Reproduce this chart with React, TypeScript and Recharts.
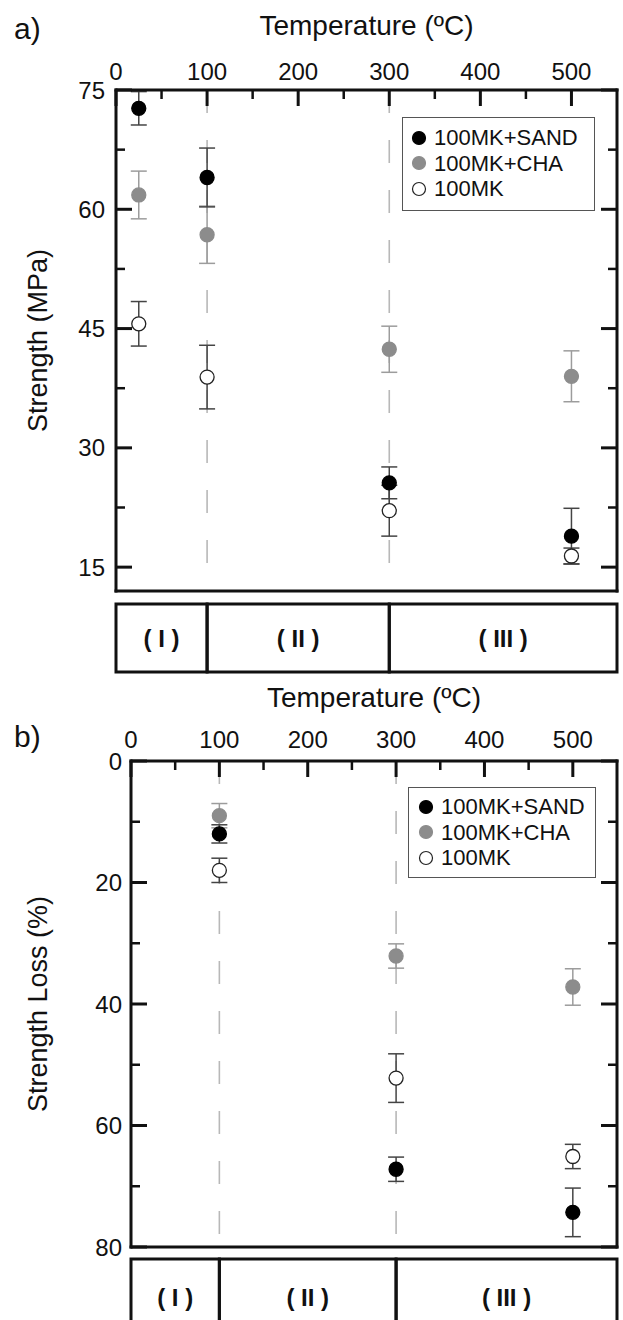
import React from 'react';
import {
  ScatterChart,
  Scatter,
  XAxis,
  YAxis,
  ErrorBar,
  ReferenceLine,
  ReferenceArea,
  Legend,
  Label,
} from 'recharts';

// ---------- data ----------
const temperatureTicks = [0, 100, 200, 300, 400, 500];
const temperatureMinorTicks = [50, 150, 250, 350, 450];
const temperatureDomain = [0, 550];
const stageLines = [100, 300];

const strengthTicks = [15, 30, 45, 60, 75];
const strengthMinorTicks = [22.5, 37.5, 52.5, 67.5];
const strengthDomain = [12, 75];

const lossTicks = [0, 20, 40, 60, 80];
const lossMinorTicks = [10, 30, 50, 70];
const lossDomain = [0, 80];

const phaseStarts = [0, 100, 300];
const phaseEnds = [100, 300, 550];
const phaseNames = ['( I )', '( II )', '( III )'];

const seriesNames = ['100MK+SAND', '100MK+CHA', '100MK'];

// panel a) compressive strength (MPa): t = temperature, v = value, e = error
const strengthSand = [
  { t: 25, v: 72.7, e: 2.1 },
  { t: 100, v: 64.0, e: 3.7 },
  { t: 300, v: 25.6, e: 2.0 },
  { t: 500, v: 18.9, e: 3.5 },
];
const strengthCha = [
  { t: 25, v: 61.8, e: 3.0 },
  { t: 100, v: 56.8, e: 3.6 },
  { t: 300, v: 42.4, e: 2.9 },
  { t: 500, v: 39.0, e: 3.2 },
];
const strengthMk = [
  { t: 25, v: 45.6, e: 2.8 },
  { t: 100, v: 38.9, e: 4.0 },
  { t: 300, v: 22.1, e: 3.2 },
  { t: 500, v: 16.4, e: 1.0 },
];

// panel b) strength loss (%)
const lossSand = [
  { t: 100, v: 12.0, e: 1.5 },
  { t: 300, v: 67.2, e: 2.0 },
  { t: 500, v: 74.3, e: 4.0 },
];
const lossCha = [
  { t: 100, v: 9.0, e: 2.0 },
  { t: 300, v: 32.1, e: 2.0 },
  { t: 500, v: 37.2, e: 3.0 },
];
const lossMk = [
  { t: 100, v: 18.0, e: 2.0 },
  { t: 300, v: 52.2, e: 4.0 },
  { t: 500, v: 65.1, e: 2.0 },
];

// ---------- styles ----------
const INK = '#111';
const MAJOR_LEN = 16;
const MINOR_LEN = 9;
const seriesStyles = [
  { fill: '#000', stroke: '#000', bar: '#444' },
  { fill: '#8c8c8c', stroke: '#8c8c8c', bar: '#9c9c9c' },
  { fill: '#fff', stroke: '#222', bar: '#444' },
];
const drawOrder = [1, 2, 0];
const frameLine = { stroke: INK, strokeWidth: 3, strokeLinecap: 'square' as const };

const sorted = (a: number[], b: number[]) => [...a, ...b].sort((p, q) => p - q);

const makeDot = (i: number) => (props: any) => {
  const s = seriesStyles[i];
  if (props.cx == null || props.cy == null) return <g />;
  return <circle cx={props.cx} cy={props.cy} r={7} fill={s.fill} stroke={s.stroke} strokeWidth={1.3} />;
};

// tick renderers: each draws an inward tick from the axis' own coordinate
const makeTopTick = (m: number, majors: number[]) => (props: any) => {
  const { x, y, payload } = props;
  const major = majors.includes(payload.value);
  const base = y + m;
  return (
    <g>
      <line x1={x} x2={x} y1={base} y2={base + (major ? MAJOR_LEN : MINOR_LEN)} stroke={INK} strokeWidth={major ? 3 : 2.5} />
      {major && (
        <text x={x} y={y} textAnchor="middle" fill={INK} fontSize={24}>
          {payload.value}
        </text>
      )}
    </g>
  );
};
const makeLeftTick = (m: number, majors: number[]) => (props: any) => {
  const { x, y, payload } = props;
  const major = majors.includes(payload.value);
  const base = x + m;
  return (
    <g>
      <line x1={base} x2={base + (major ? MAJOR_LEN : MINOR_LEN)} y1={y} y2={y} stroke={INK} strokeWidth={major ? 3 : 2.5} />
      {major && (
        <text x={x} y={y} dy="0.355em" textAnchor="end" fill={INK} fontSize={24}>
          {payload.value}
        </text>
      )}
    </g>
  );
};
const makeBottomTick = (majors: number[]) => (props: any) => {
  const { x, y, payload } = props;
  const major = majors.includes(payload.value);
  return <line x1={x} x2={x} y1={y} y2={y - (major ? MAJOR_LEN : MINOR_LEN)} stroke={INK} strokeWidth={major ? 3 : 2.5} />;
};
const makeRightTick = (majors: number[]) => (props: any) => {
  const { x, y, payload } = props;
  const major = majors.includes(payload.value);
  return <line x1={x} x2={x - (major ? MAJOR_LEN : MINOR_LEN)} y1={y} y2={y} stroke={INK} strokeWidth={major ? 3 : 2.5} />;
};

const LegendBox = ({ w, h, padTop, markLeft }: any) => (
  <div
    style={{
      width: w,
      height: h,
      boxSizing: 'border-box',
      border: '1.5px solid #555',
      background: '#fff',
      paddingTop: padTop,
    }}
  >
    {seriesNames.map((n, i) => (
      <div
        key={n}
        style={{ display: 'flex', alignItems: 'center', height: 25.5, fontSize: 22, lineHeight: '25.5px', color: INK }}
      >
        <svg width={16} height={16} style={{ marginLeft: markLeft, marginRight: 7 }}>
          <circle cx={8} cy={8} r={6.5} fill={seriesStyles[i].fill} stroke={seriesStyles[i].stroke} strokeWidth={1.2} />
        </svg>
        <span>{n}</span>
      </div>
    ))}
  </div>
);

function Panel(p: any) {
  const common = { type: 'number' as const, allowDataOverflow: true, interval: 0 as const };
  const xAll = sorted(temperatureTicks, temperatureMinorTicks);
  const yAll = sorted(p.yTicks, p.yMinor);
  return (
    <ScatterChart width={p.width} height={p.height} margin={p.margin}>
      <XAxis
        {...common}
        xAxisId="lab"
        dataKey="t"
        orientation="top"
        height={p.topH}
        domain={temperatureDomain}
        ticks={xAll}
        tickLine={false}
        axisLine={frameLine}
        tickSize={0}
        tickMargin={p.xTickMargin}
        tick={makeTopTick(p.xTickMargin, temperatureTicks)}
      >
        <Label value="Temperature (ºC)" position="insideTop" offset={p.titleOffset} style={{ fill: INK, fontSize: 28 }} />
      </XAxis>
      <YAxis
        {...common}
        yAxisId="lab"
        dataKey="v"
        orientation="left"
        width={p.leftW}
        domain={p.yDomain}
        reversed={p.reversed}
        ticks={yAll}
        tickLine={false}
        axisLine={frameLine}
        tickSize={0}
        tickMargin={p.yTickMargin}
        tick={makeLeftTick(p.yTickMargin, p.yTicks)}
      >
        <Label
          value={p.yLabel}
          angle={-90}
          position="insideLeft"
          offset={p.yLabelOffset}
          style={{ textAnchor: 'middle', fill: INK, fontSize: 27 }}
        />
      </YAxis>
      <XAxis
        {...common}
        xAxisId="bottom"
        orientation="bottom"
        height={1}
        domain={temperatureDomain}
        ticks={xAll}
        tickLine={false}
        axisLine={frameLine}
        tickSize={0}
        tickMargin={0}
        tick={makeBottomTick(temperatureTicks)}
      />
      <YAxis
        {...common}
        yAxisId="right"
        orientation="right"
        width={1}
        domain={p.yDomain}
        reversed={p.reversed}
        ticks={yAll}
        tickLine={false}
        axisLine={frameLine}
        tickSize={0}
        tickMargin={0}
        tick={makeRightTick(p.yTicks)}
      />

      {stageLines.map((x) => (
        <ReferenceLine
          key={x}
          xAxisId="lab"
          yAxisId="lab"
          x={x}
          stroke="#b8b8b8"
          strokeWidth={1.6}
          strokeDasharray="23 27"
        />
      ))}

      {drawOrder.map((i) => (
        <Scatter
          key={seriesNames[i]}
          name={seriesNames[i]}
          data={p.data[i]}
          xAxisId="lab"
          yAxisId="lab"
          isAnimationActive={false}
          shape={makeDot(i)}
        >
          <ErrorBar dataKey="e" direction="y" width={8} stroke={seriesStyles[i].bar} strokeWidth={1.5} isAnimationActive={false} />
        </Scatter>
      ))}

      <Legend
        layout="vertical"
        align="center"
        verticalAlign="middle"
        wrapperStyle={{ left: p.legendLeft, top: p.legendTop, width: p.legendW, height: p.legendH }}
        content={() => <LegendBox w={p.legendW} h={p.legendH} padTop={p.legendPad} markLeft={p.legendMark} />}
      />
    </ScatterChart>
  );
}

const phaseCentres = phaseNames.map((n, i) => ({ t: (phaseStarts[i] + phaseEnds[i]) / 2, y: 0.5, n }));

const PhaseLabel = (props: any) => {
  if (props.cx == null || props.cy == null) return <g />;
  return (
    <text x={props.cx} y={props.cy} dy="0.355em" textAnchor="middle" fill={INK} fontSize={24} fontWeight={700}>
      {props.payload.n}
    </text>
  );
};

function PhaseStrip(p: any) {
  return (
    <ScatterChart width={p.width} height={p.height} margin={p.margin}>
      <XAxis xAxisId="p" dataKey="t" type="number" domain={temperatureDomain} hide allowDataOverflow />
      <YAxis yAxisId="p" dataKey="y" type="number" domain={[0, 1]} hide allowDataOverflow />
      {phaseNames.map((n, i) => (
        <ReferenceArea
          key={n}
          xAxisId="p"
          yAxisId="p"
          x1={phaseStarts[i]}
          x2={phaseEnds[i]}
          y1={0}
          y2={1}
          fill="#fff"
          fillOpacity={0}
          stroke={INK}
          strokeWidth={3}
          strokeOpacity={1}
          ifOverflow="visible"
        />
      ))}
      <Scatter data={phaseCentres} xAxisId="p" yAxisId="p" isAnimationActive={false} shape={PhaseLabel} legendType="none" />
    </ScatterChart>
  );
}

export default function App() {
  return (
    <div
      style={{
        position: 'absolute',
        left: 0,
        top: 0,
        width: 623,
        height: 1320,
        overflow: 'hidden',
        background: '#fff',
        fontFamily: '"Liberation Sans", Arial, sans-serif',
        color: INK,
      }}
    >
      <div style={{ position: 'absolute', left: 0, top: 0 }}>
        <Panel
          width={623}
          height={600}
          margin={{ top: 10, right: 5, bottom: 8, left: 0 }}
          topH={80}
          leftW={116}
          xTickMargin={10}
          yTickMargin={11}
          titleOffset={5}
          yLabel="Strength (MPa)"
          yLabelOffset={37}
          yDomain={strengthDomain}
          yTicks={strengthTicks}
          yMinor={strengthMinorTicks}
          reversed={false}
          data={[strengthSand, strengthCha, strengthMk]}
          legendLeft={402}
          legendTop={117}
          legendW={193}
          legendH={94}
          legendPad={7}
          legendMark={8}
        />
      </div>
      <div style={{ position: 'absolute', left: 0, top: 596 }}>
        <PhaseStrip width={623} height={84} margin={{ top: 8, right: 6, bottom: 8, left: 116 }} />
      </div>
      <div style={{ position: 'absolute', left: 0, top: 670 }}>
        <Panel
          width={623}
          height={597}
          margin={{ top: 10, right: 5, bottom: 19, left: 0 }}
          topH={81}
          leftW={131}
          xTickMargin={13}
          yTickMargin={9}
          titleOffset={7.5}
          yLabel="Strength Loss (%)"
          yLabelOffset={37}
          yDomain={lossDomain}
          yTicks={lossTicks}
          yMinor={lossMinorTicks}
          reversed={true}
          data={[lossSand, lossCha, lossMk]}
          legendLeft={408}
          legendTop={117}
          legendW={188}
          legendH={91}
          legendPad={6}
          legendMark={9}
        />
      </div>
      <div style={{ position: 'absolute', left: 0, top: 1251 }}>
        <PhaseStrip width={623} height={92} margin={{ top: 8, right: 6, bottom: 8, left: 131 }} />
      </div>
      <div style={{ position: 'absolute', left: 14, top: 14, fontSize: 30, lineHeight: '30px' }}>a)</div>
      <div style={{ position: 'absolute', left: 14, top: 722, fontSize: 30, lineHeight: '30px' }}>b)</div>
    </div>
  );
}
